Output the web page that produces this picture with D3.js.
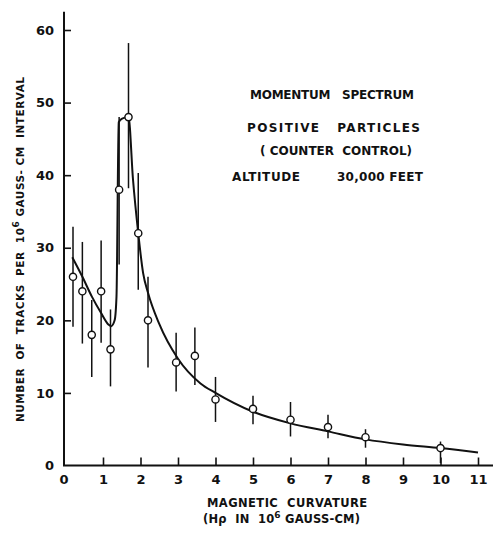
<!DOCTYPE html>
<html><head><meta charset="utf-8">
<script src="https://cdn.jsdelivr.net/npm/d3@7"></script>
<style>
html,body{margin:0;padding:0;background:#fff;}
svg{display:block;}
text{font-family:"DejaVu Sans",sans-serif;font-weight:bold;fill:#111;white-space:pre;}
</style></head>
<body>
<svg id="chart" width="494" height="533"></svg>
<script>
// ---- data ----
const pointX = [0.2,0.45,0.7,0.95,1.2,1.43,1.68,1.94,2.2,2.95,3.45,4,5,6,7,8,10];
const pointY = [26,24,18,24,16,38,48,32,20,14.2,15.1,9.1,7.8,6.3,5.3,3.9,2.4];
const errLow = [19.1,16.8,12.2,16.9,10.9,27.7,38.2,24.2,13.5,10.2,11.1,6.0,5.7,4.0,3.75,2.45,0.35];
const errHigh = [32.9,30.8,22.8,31,21.5,48,58.2,40.3,26,18.3,19,12.2,9.6,8.75,7.0,5.0,3.3];
const curveX = [0.18,0.45,0.7,0.95,1.15,1.22,1.31,1.36,1.42,1.51,1.68,1.8,1.94,2.07,2.2,2.5,3,3.6,4,5,6,7,8,9,10,11];
const curveY = [28.7,26,23.3,21,19.4,19.2,20,23.3,47.3,47.8,48,39.4,32,26.5,23.8,19.5,14.7,11.3,10,7.4,5.8,4.7,3.6,2.9,2.4,1.8];
const xTicks = [0,1,2,3,4,5,6,7,8,9,10,11];
const yTicks = [0,10,20,30,40,50,60];
const notes = ["MOMENTUM   SPECTRUM","POSITIVE   PARTICLES","( COUNTER  CONTROL)","ALTITUDE","30,000 FEET"];

const svg = d3.select("#chart");
const x = d3.scaleLinear().domain([0,11]).range([65.5,478]);
const y = d3.scaleLinear().domain([0,60]).range([465.5,30]);
const ink = "#111";

// axis lines
svg.append("line").attr("x1",x(0)-1.5).attr("x2",x(0)-1.5).attr("y1",y(0)).attr("y2",y(62.5))
  .attr("stroke",ink).attr("stroke-width",2);
svg.append("line").attr("x1",x(0)-2.5).attr("x2",x(11.4)).attr("y1",y(0)).attr("y2",y(0))
  .attr("stroke",ink).attr("stroke-width",2);

// y axis
const gy = svg.append("g").attr("transform",`translate(${x(0)-1.5},0)`)
  .call(d3.axisLeft(y).tickValues(yTicks).tickSize(-7).tickPadding(10).tickFormat(d3.format("d")));
gy.select(".domain").remove();
gy.selectAll(".tick line").attr("stroke",ink).attr("stroke-width",1.6).filter(d=>d===0).remove();
gy.selectAll(".tick text").attr("font-family","DejaVu Sans").attr("font-weight","bold").attr("font-size",13).attr("fill",ink);

// x axis
const gx = svg.append("g").attr("transform",`translate(0,${y(0)})`)
  .call(d3.axisBottom(x).tickValues(xTicks).tickSize(-8).tickPadding(9).tickFormat(d3.format("d")));
gx.select(".domain").remove();
gx.selectAll(".tick line").attr("stroke",ink).attr("stroke-width",1.6).filter(d=>d===0).remove();
gx.selectAll(".tick text").attr("font-family","DejaVu Sans").attr("font-weight","bold").attr("font-size",13).attr("fill",ink);
gx.selectAll(".tick").filter(d=>d===0).select("text").attr("x",-2);

// fitted curve
const curve = curveX.map((d,i)=>[d,curveY[i]]);
svg.append("path").datum(curve)
  .attr("d",d3.line().x(d=>x(d[0])).y(d=>y(d[1])).curve(d3.curveMonotoneX))
  .attr("fill","none").attr("stroke",ink).attr("stroke-width",2);

// error bars
const pts = pointX.map((d,i)=>({x:d,y:pointY[i],lo:errLow[i],hi:errHigh[i]}));
svg.append("g").selectAll("line").data(pts).join("line")
  .attr("x1",d=>x(d.x)).attr("x2",d=>x(d.x)).attr("y1",d=>y(d.lo)).attr("y2",d=>y(d.hi))
  .attr("stroke",ink).attr("stroke-width",1.5);
// points
svg.append("g").selectAll("circle").data(pts).join("circle")
  .attr("cx",d=>x(d.x)).attr("cy",d=>y(d.y)).attr("r",3.6)
  .attr("fill","#fff").attr("stroke",ink).attr("stroke-width",1.4);

// helper: stretch text to a width
function fit(t, w){
  const n = t.node().textContent.length;
  t.attr("letter-spacing", 0);
  const nat = t.node().getComputedTextLength();
  t.attr("letter-spacing", ((w-nat)/Math.max(1,n-1)).toFixed(2));
}

// annotation
const noteSpec = [[250,99,164],[247,132,173],[260,155,152],[232,181,68],[337,181,86]];
notes.forEach((s,i)=>{
  const [tx,ty,tw]=noteSpec[i];
  const t = svg.append("text").attr("x",tx).attr("y",ty).attr("font-size",12).text(s);
  fit(t,tw);
});

// x title
const xt1 = svg.append("text").attr("x",207).attr("y",507).attr("font-size",11.5).text("MAGNETIC  CURVATURE");
fit(xt1,160);
const xt2 = svg.append("text").attr("x",203).attr("y",523).attr("font-size",11.5);
xt2.append("tspan").text("(H\u03C1  IN  10");
xt2.append("tspan").attr("dy",-5).attr("font-size",9).text("6");
xt2.append("tspan").attr("dy",5).text(" GAUSS-CM)");
fit(xt2,157);

// y title
const yt = svg.append("text").attr("transform","translate(24,422) rotate(-90)").attr("font-size",10.5);
yt.append("tspan").text("NUMBER  OF  TRACKS  PER  10");
yt.append("tspan").attr("dy",-5).attr("font-size",9).text("6");
yt.append("tspan").attr("dy",5).text(" GAUSS- CM  INTERVAL");
fit(yt,345);
</script>
</body></html>
